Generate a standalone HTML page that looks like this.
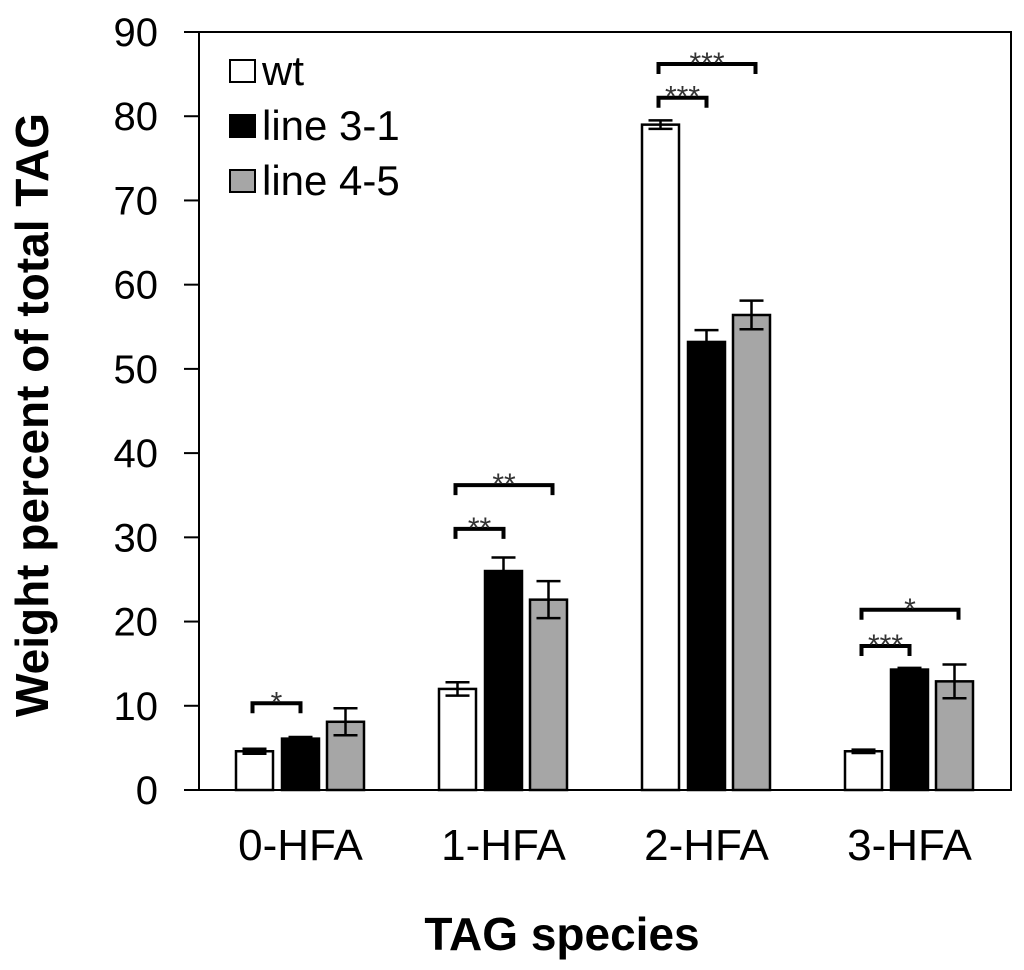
<!DOCTYPE html>
<html><head><meta charset="utf-8"><style>
body{margin:0;background:#fff}
svg{display:block;font-family:"Liberation Sans",Arial,sans-serif}
</style></head><body>
<svg id="chart" width="1024" height="970" viewBox="0 0 1024 970"></svg>
<script>
const categories=["0-HFA","1-HFA","2-HFA","3-HFA"];
const seriesNames=["wt","line 3-1","line 4-5"];
const wtValues=[4.6,12.0,79.0,4.6];
const line31Values=[6.1,26.0,53.2,14.3];
const line45Values=[8.1,22.6,56.4,12.9];
const wtErr=[0.3,0.8,0.5,0.2];
const line31Err=[0.2,1.6,1.4,0.2];
const line45Err=[1.6,2.2,1.7,2.0];
const yTicks=[0,10,20,30,40,50,60,70,80,90];
const sigCat=[0,1,1,2,2,3,3];
const sigTo=[1,1,2,1,2,1,2];
const sigLevel=[10.3,31.0,36.2,82.2,86.2,17.1,21.4];
const sigLabel=["*","**","**","***","***","***","*"];

const NS="http://www.w3.org/2000/svg";
const svg=document.getElementById("chart");
const L=199,R=1011,T=32,B=790,yMax=90;
const y=v=>B-(v/yMax)*(B-T);
const groupW=(R-L)/categories.length;
const xc=i=>L+groupW*(i+0.5);
const barOff=[-46,0,45],barW=37;
const fills=["#fff","#000","#a6a6a6"];
function mk(tag,attrs,parent){const e=document.createElementNS(NS,tag);for(const k in attrs)e.setAttribute(k,attrs[k]);(parent||svg).appendChild(e);return e;}

yTicks.forEach(t=>{
  const g=mk("g",{});
  
  
  mk("line",{x1:184,x2:L,y1:y(t),y2:y(t),stroke:"#000","stroke-width":2},g);
  const tx=mk("text",{x:158,y:y(t)+14,"text-anchor":"end","font-size":40,fill:"#000"},g);
  tx.textContent=t;
});
const fr=mk("rect",{x:L,y:T,width:R-L,height:B-T,fill:"none",stroke:"#000","stroke-width":2});



const vals=[wtValues,line31Values,line45Values],errs=[wtErr,line31Err,line45Err];
categories.forEach((c,i)=>{
  vals.forEach((arr,s)=>{
    const cx=xc(i)+barOff[s];
    const b=mk("rect",{x:cx-barW/2,y:y(arr[i]),width:barW,height:B-y(arr[i]),fill:fills[s],stroke:"#000","stroke-width":2.5});
    
    
    const e=errs[s][i];
    const eg=mk("g",{stroke:"#000","stroke-width":2.5});
    
    
    mk("line",{x1:cx,x2:cx,y1:y(arr[i]+e),y2:y(arr[i]-e)},eg);
    mk("line",{x1:cx-12,x2:cx+12,y1:y(arr[i]+e),y2:y(arr[i]+e)},eg);
    mk("line",{x1:cx-12,x2:cx+12,y1:y(arr[i]-e),y2:y(arr[i]-e)},eg);
  });
  const lbl=mk("text",{x:xc(i),y:860,"text-anchor":"middle","font-size":44,fill:"#000"});
  
  
  lbl.textContent=c;
});
sigCat.forEach((c,k)=>{
  const x1=xc(c)+barOff[0]-2,x2=xc(c)+barOff[sigTo[k]]+(sigTo[k]==2?4:0);
  const yy=y(sigLevel[k]);
  const g=mk("g",{});
  
  
  mk("path",{d:`M${x1},${yy+10}V${yy}H${x2}V${yy+10}`,fill:"none",stroke:"#000","stroke-width":4},g);
  const t=mk("text",{x:(x1+x2)/2,y:yy+9,"text-anchor":"middle","font-size":30,fill:"#333"},g);
  t.textContent=sigLabel[k];
});
seriesNames.forEach((n,s)=>{
  const g=mk("g",{});
  
  
  const yy=60+s*55;
  mk("rect",{x:230,y:yy,width:25,height:22,fill:fills[s],stroke:"#000","stroke-width":2},g);
  const t=mk("text",{x:262,y:yy+25,"font-size":42,fill:"#000"},g);
  t.textContent=n;
});
const yt=mk("text",{x:0,y:0,transform:"translate(48,415) rotate(-90)","text-anchor":"middle","font-size":46,"font-weight":"bold",fill:"#000"});


yt.textContent="Weight percent of total TAG";
const xt=mk("text",{x:562,y:950,"text-anchor":"middle","font-size":46,"font-weight":"bold",fill:"#000"});


xt.textContent="TAG species";
</script>
</body></html>
